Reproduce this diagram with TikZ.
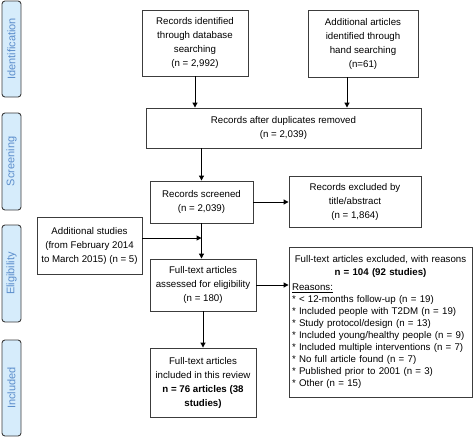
\documentclass[tikz,border=0pt]{standalone}
\usepackage{fontspec}
\setmainfont{Liberation Sans}
\usetikzlibrary{arrows.meta,calc}
\definecolor{phasefill}{RGB}{214,236,251}
\definecolor{phasetext}{RGB}{92,142,204}
\definecolor{edgegray}{RGB}{60,60,60}
\newcommand{\bul}{{*}\ }
\begin{document}
\begin{tikzpicture}[x=1pt,y=-1pt,
  box/.style={draw=edgegray, line width=0.9pt, align=center, inner sep=2pt,
    font=\fontsize{9.7}{14}\selectfont},
  phase/.style={draw=edgegray, line width=0.9pt, fill=phasefill, rounded corners=3pt,
    rotate=90, minimum height=19pt, inner sep=0pt, text=phasetext,
    font=\fontsize{11}{13}\selectfont},
  arr/.style={draw=black, line width=1pt, -{Triangle[length=5pt,width=5pt]}}]
\useasboundingbox (0,0) rectangle (473,437);
% phases
\node[phase, minimum width=96pt] (p1) at (11.5,49) {Identification};
\node[phase, minimum width=97pt] (p2) at (11.5,161.5) {Screening};
\node[phase, minimum width=97pt] (p3) at (11.5,273.5) {Eligibility};
\node[phase, minimum width=96pt] (p4) at (11.5,388) {Included};
% boxes
\node[box, minimum width=106pt, minimum height=66pt] (b1) at (195,43)
  {Records identified\\through database\\searching\\(n = 2,992)};
\node[box, minimum width=110pt, minimum height=67pt] (b2) at (363,43.5)
  {Additional articles\\identified through\\hand searching\\(n=61)};
\node[box, minimum width=275pt, minimum height=40pt] (b3) at (283.5,128)
  {Records after duplicates removed\\(n = 2,039)};
\node[box, minimum width=103pt, minimum height=42pt] (b4) at (201.5,202)
  {Records screened\\(n = 2,039)};
\node[box, minimum width=132pt, minimum height=51pt] (b5) at (355,201.5)
  {Records excluded by\\title/abstract\\(n = 1,864)};
\node[box, minimum width=105pt, minimum height=57pt] (b6) at (89.5,245.5)
  {Additional studies\\(from February 2014\\to March 2015) (n = 5)};
\node[box, minimum width=106pt, minimum height=52pt] (b7) at (203,285)
  {Full-text articles\\assessed for eligibility\\(n = 180)};
\node[box, minimum width=183pt, minimum height=150pt, text width=177pt, align=left,
  font=\fontsize{9.7}{12}\selectfont] (b8) at (380.5,322)
  {\makebox[\linewidth]{Full-text articles excluded, with reasons}\\[1pt]
   \makebox[\linewidth]{\textbf{n = 104 (92 studies)}}\\[3pt]
   \underline{Reasons:}\\
   \bul < 12-months follow-up (n = 19)\\
   \bul Included people with T2DM (n = 19)\\
   \bul Study protocol/design (n = 13)\\
   \bul Included young/healthy people (n = 9)\\
   \bul Included multiple interventions (n = 7)\\
   \bul No full article found (n = 7)\\
   \bul Published prior to 2001 (n = 3)\\
   \bul Other (n = 15)};
\node[box, minimum width=106pt, minimum height=69pt] (b9) at (203,382.5)
  {Full-text articles\\included in this review\\\textbf{n = 76 articles (38}\\\textbf{studies)}};
% connectors
\draw[arr] (b1.south) -- (b1.south |- b3.north);
\coordinate (b2s) at ($(b2.south)+(-16,0)$);
\draw[arr] (b2s) -- (b2s |- b3.north);
\draw[arr] (b4.north |- b3.south) -- (b4.north);
\draw[arr] (b4.east) -- (b4.east -| b5.west);
\draw[arr] (b4.south) -- (b4.south |- b7.north);
\coordinate (b6e) at ($(b6.east)+(0,-7.5)$);
\draw[arr] (b6e) -- (b6e -| b4.south);
\draw[arr] (b7.east) -- (b7.east -| b8.west);
\draw[arr] (b7.south) -- (b7.south |- b9.north);
\end{tikzpicture}
\end{document}
